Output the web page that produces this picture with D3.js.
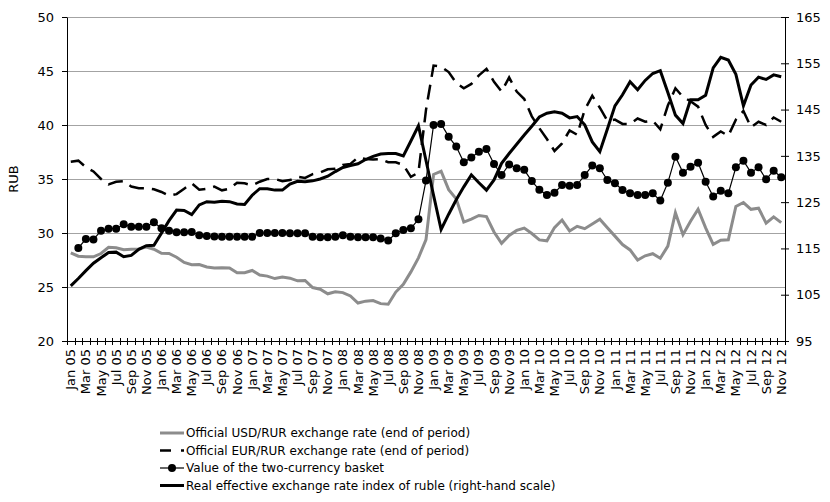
<!DOCTYPE html>
<html>
<head>
<meta charset="utf-8">
<script src="https://d3js.org/d3.v7.min.js"></script>
<style>
  body { margin: 0; background: #fff; }
  svg text { font-family: "DejaVu Sans", sans-serif; fill: #000; }
</style>
</head>
<body>
<div id="my_dataviz"></div>
<script>
// categories: Jan 05 .. Nov 12, labels shown on every second month
var months = ["Jan","Feb","Mar","Apr","May","Jun","Jul","Aug","Sep","Oct","Nov","Dec"];
var years = ["05","06","07","08","09","10","11","12"];
var categories = [];
years.forEach(y => months.forEach(m => categories.push(m + " " + y)));
categories = categories.slice(0, 95);

// Official USD/RUR (left scale)
var usd = [
  28.15, 27.85, 27.8, 27.8, 28.1, 28.67, 28.63, 28.46, 28.5, 28.53, 28.7, 28.5,
  28.12, 28.1, 27.76, 27.27, 27.07, 27.08, 26.86, 26.75, 26.78, 26.76, 26.31, 26.33,
  26.53, 26.11, 26.01, 25.78, 25.92, 25.82, 25.57, 25.61, 24.95, 24.8, 24.37, 24.55,
  24.48, 24.17, 23.52, 23.69, 23.74, 23.46, 23.4, 24.53, 25.25, 26.4, 27.7, 29.38,
  35.42, 35.72, 34.01, 33.16, 31.01, 31.29, 31.62, 31.52, 30.09, 29.05, 29.77, 30.24,
  30.45, 29.95, 29.36, 29.28, 30.5, 31.2, 30.19, 30.62, 30.4, 30.83, 31.28, 30.48,
  29.71, 28.93, 28.43, 27.5, 27.89, 28.08, 27.66, 28.79, 31.88, 29.85, 31.09, 32.2,
  30.48, 28.95, 29.33, 29.37, 32.45, 32.82, 32.19, 32.3, 30.92, 31.5, 30.96
];

// Official EUR/RUR (left scale)
var eur = [
  36.6, 36.7, 36.1, 35.7, 35.0, 34.5, 34.75, 34.8, 34.3, 34.15, 34.15, 34.05,
  33.8, 33.45, 33.6, 34.1, 34.6, 34.0, 34.1, 34.3, 33.95, 34.1, 34.65, 34.6,
  34.4, 34.75, 35.0, 35.0, 34.8, 34.9, 35.2, 35.1, 35.45, 35.6, 35.9, 35.95,
  36.3, 36.4, 37.0, 36.85, 36.8, 36.85, 36.55, 36.55, 36.3, 35.2, 35.6, 41.4,
  45.5, 45.4, 44.9, 43.9, 43.4, 43.8, 44.6, 45.2, 44.0, 43.1, 44.4, 43.1,
  42.4, 40.8, 39.7, 38.7, 37.6, 38.3, 39.5, 39.1, 41.4, 42.7, 41.6, 40.4,
  40.5, 40.1, 40.1, 40.6, 40.3, 40.4, 39.6, 41.8, 43.4, 42.6, 42.2, 41.7,
  40.0, 38.9, 39.4, 39.0, 40.5, 41.3, 39.8, 40.3, 40.0, 40.7, 40.3
];

// Value of the two-currency basket (left scale)
var basket = [
  null, 28.6, 29.45, 29.4, 30.2, 30.4, 30.4, 30.8, 30.58, 30.58, 30.58, 31.0,
  30.43, 30.2, 30.08, 30.08, 30.1, 29.8, 29.72, 29.68, 29.66, 29.66, 29.66, 29.66,
  29.66, 30.0, 30.0, 30.0, 30.0, 29.97, 29.97, 29.97, 29.66, 29.6, 29.6, 29.66,
  29.8, 29.66, 29.6, 29.6, 29.6, 29.5, 29.3, 29.97, 30.28, 30.43, 31.27, 34.85,
  40.0, 40.1, 38.92, 38.0, 36.54, 37.0, 37.53, 37.78, 36.39, 35.37, 36.35, 36.0,
  35.85, 34.81, 34.0, 33.52, 33.73, 34.44, 34.38, 34.44, 35.37, 36.24, 36.0, 34.91,
  34.6, 33.98, 33.67, 33.52, 33.52, 33.67, 33.0, 34.66, 37.07, 35.59, 36.14, 36.51,
  34.75, 33.37, 33.92, 33.67, 36.08, 36.7, 35.59, 36.08, 34.97, 35.77, 35.16
];

// Real effective exchange rate index of ruble (right scale)
var reer = [
  106.9, 108.5, 110.2, 111.8, 113.0, 114.1, 114.2, 113.2, 113.5, 114.8, 115.6, 115.7,
  118.3, 121.0, 123.3, 123.2, 122.3, 124.4, 125.1, 125.0, 125.2, 125.1, 124.6, 124.5,
  126.5, 127.9, 127.9, 127.6, 127.6, 128.9, 129.5, 129.4, 129.6, 130.0, 130.6, 131.6,
  132.5, 132.9, 133.3, 134.2, 134.9, 135.4, 135.5, 135.5, 135.0, 138.2, 141.5, 134.0,
  126.5, 119.1, 122.4, 125.5, 128.3, 130.9, 129.2, 127.6, 129.8, 133.4, 135.5, 137.5,
  139.5, 141.4, 143.4, 144.2, 144.5, 144.2, 143.2, 143.5, 141.7, 138.0, 135.9, 140.8,
  145.8, 148.2, 151.0, 149.3, 151.3, 152.8, 153.4, 148.7, 143.8, 142.0, 147.1, 147.1,
  148.1, 154.0, 156.3, 155.7, 152.6, 145.8, 150.3, 152.0, 151.5, 152.5, 152.1
];

var leftTicks = [20, 25, 30, 35, 40, 45, 50];
var rightTicks = [95, 105, 115, 125, 135, 145, 155, 165];
var legendLabels = [
  "Official USD/RUR exchange rate (end of period)",
  "Official EUR/RUR exchange rate (end of period)",
  "Value of the two-currency basket",
  "Real effective exchange rate index of ruble (right-hand scale)"
];

var margin = {top: 17, right: 45, bottom: 161, left: 67},
    width = 830 - margin.left - margin.right,
    height = 502 - margin.top - margin.bottom;

var svg = d3.select("#my_dataviz")
  .append("svg")
  .attr("width", 830)
  .attr("height", 502)
  .append("g")
  .attr("transform", "translate(" + margin.left + "," + margin.top + ")");

// scales
var x = d3.scaleBand()
  .domain(categories)
  .range([0, width]);
var yL = d3.scaleLinear().domain([20, 50]).range([height, 0]);
var yR = d3.scaleLinear().domain([95, 165]).range([height, 0]);
var cx = function(i) { return x(categories[i]) + x.bandwidth() / 2; };

// gridlines
svg.selectAll(".grid")
  .data(leftTicks.slice(1))
  .enter()
  .append("line")
  .attr("x1", 0)
  .attr("x2", width)
  .attr("y1", d => Math.round(yL(d)) + 0.5)
  .attr("y2", d => Math.round(yL(d)) + 0.5)
  .style("stroke", "#a3a3a3")
  .style("stroke-width", 1);

// left axis
var gl = svg.append("g")
  .call(d3.axisLeft(yL).tickValues(leftTicks).tickSize(5).tickSizeOuter(0).tickPadding(8));
gl.selectAll("text").style("font-size", "13px");
gl.selectAll("line, path").style("stroke", "#000");

svg.append("text")
  .attr("transform", "translate(-54," + (height / 2) + ") rotate(-90)")
  .attr("text-anchor", "middle")
  .attr("dy", "0.35em")
  .style("font-size", "13px")
  .text("RUB");

// right axis
var gr = svg.append("g")
  .attr("transform", "translate(" + width + ",0)")
  .call(d3.axisRight(yR).tickValues(rightTicks).tickSize(4).tickSizeOuter(0).tickPadding(7));
gr.selectAll(".tick line").attr("x1", -4);
gr.selectAll("text").style("font-size", "13px");
gr.selectAll("line, path").style("stroke", "#000");

// bottom axis with rotated labels on every second month
var gb = svg.append("g")
  .attr("transform", "translate(0," + height + ")")
  .call(d3.axisBottom(x).tickSize(0).tickFormat((d, i) => i % 2 == 0 ? d : ""));
gb.select(".domain").style("stroke", "#000");
gb.selectAll("text")
  .attr("transform", "rotate(-90)")
  .attr("x", -8)
  .attr("y", 0)
  .attr("dy", "0.35em")
  .style("text-anchor", "end")
  .style("font-size", "13px");

// tick marks on category boundaries
svg.append("g")
  .selectAll("line")
  .data(d3.range(categories.length + 1))
  .enter()
  .append("line")
  .attr("x1", d => Math.round(d * x.step()) + 0.5)
  .attr("x2", d => Math.round(d * x.step()) + 0.5)
  .attr("y1", height - 3)
  .attr("y2", height + 4)
  .style("stroke", "#000");

// lines
var lineL = d3.line()
  .defined(d => d != null)
  .x((d, i) => cx(i))
  .y(d => yL(d));
var lineR = d3.line()
  .x((d, i) => cx(i))
  .y(d => yR(d));

svg.append("path")
  .datum(usd)
  .attr("d", lineL)
  .style("fill", "none")
  .style("stroke", "#8c8c8c")
  .style("stroke-width", 3);

svg.append("path")
  .datum(eur)
  .attr("d", lineL)
  .style("fill", "none")
  .style("stroke", "#000")
  .style("stroke-width", 2.5)
  .style("stroke-dasharray", "15,8");

svg.append("path")
  .datum(basket)
  .attr("d", lineL)
  .style("fill", "none")
  .style("stroke", "#000")
  .style("stroke-width", 1.2);

svg.selectAll(".dot")
  .data(basket.map((v, i) => ({v: v, i: i})).filter(d => d.v != null))
  .enter()
  .append("circle")
  .attr("cx", d => cx(d.i))
  .attr("cy", d => yL(d.v))
  .attr("r", 4)
  .style("fill", "#000");

svg.append("path")
  .datum(reer)
  .attr("d", lineR)
  .style("fill", "none")
  .style("stroke", "#000")
  .style("stroke-width", 3);

// legend
var legend = svg.append("g")
  .attr("transform", "translate(" + (160 - margin.left) + "," + (433 - margin.top) + ")");

var rows = legend.selectAll(".row")
  .data(legendLabels)
  .enter()
  .append("g")
  .attr("transform", (d, i) => "translate(0," + (i * 17.5) + ")");

rows.append("line")
  .attr("x1", 0)
  .attr("x2", 24)
  .attr("y1", 0)
  .attr("y2", 0)
  .style("stroke", (d, i) => i == 0 ? "#8c8c8c" : "#000")
  .style("stroke-width", (d, i) => i == 2 ? 1.2 : (i == 1 ? 2.5 : 3))
  .style("stroke-dasharray", (d, i) => i == 1 ? "11,10" : null);

rows.filter((d, i) => i == 2)
  .append("circle")
  .attr("cx", 12)
  .attr("cy", 0)
  .attr("r", 4)
  .style("fill", "#000");

rows.append("text")
  .attr("x", 26)
  .attr("dy", "0.35em")
  .style("font-size", "12px")
  .text(d => d);
</script>
</body>
</html>
